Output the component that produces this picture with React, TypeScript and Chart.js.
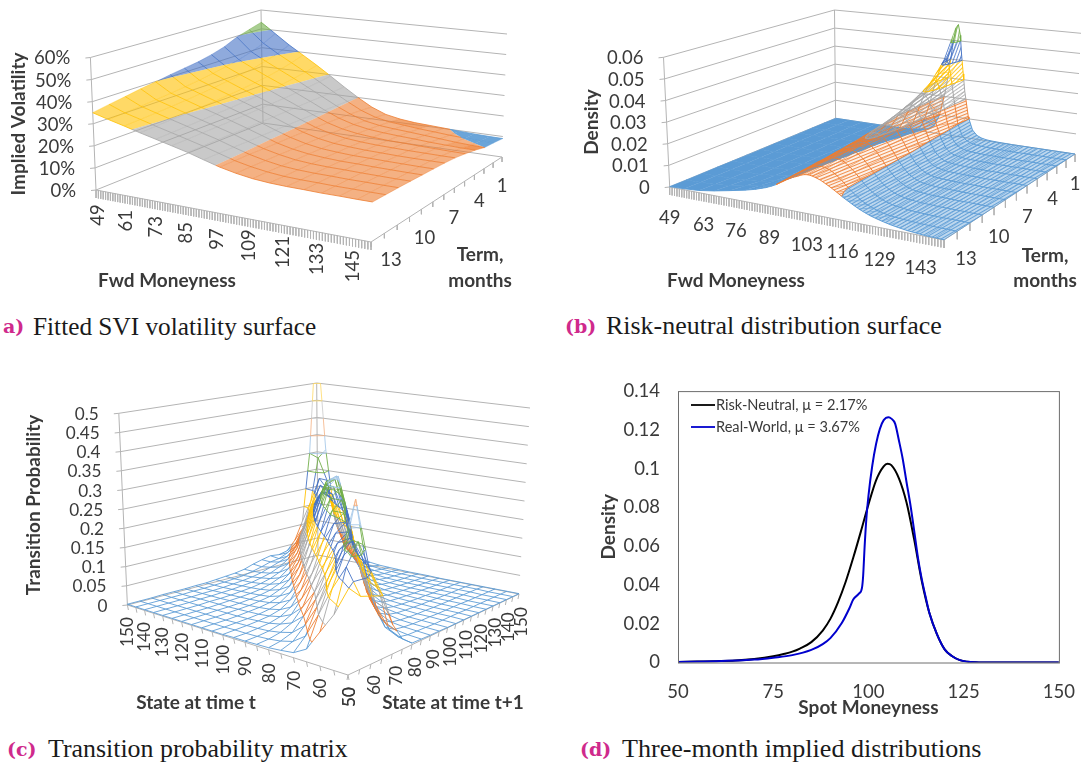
import React, { useEffect, useRef } from "react";
import { Chart, registerables } from "chart.js";
Chart.register(...registerables);

// ---------- Panel (a): implied volatility, % ----------
const volMoneyness = [49, 55, 61, 67, 73, 79, 85, 91, 97, 103, 109, 115, 121, 127, 133, 139, 145, 150];
const volTerms = [1, 2, 3, 4, 5, 6, 7, 8, 9, 10, 11, 12, 13];
const volTerm1 = [53.5, 48.2, 43, 38.5, 34, 29.3, 24.5, 20, 16, 13.2, 11.8, 11, 10.6, 10.2, 9.7, 9.3, 9.1, 9];
const volTerm2 = [51.5, 45.1, 40.6, 36.6, 32.6, 28.5, 24.3, 20.3, 16.7, 14.2, 12.8, 12.1, 11.4, 10.9, 10.3, 9.9, 9.7, 9.6];
const volTerm3 = [49.5, 42.7, 38.7, 35.1, 31.6, 27.9, 24.2, 20.5, 17.3, 14.9, 13.6, 12.9, 12.4, 11.8, 11.2, 10.6, 10.2, 10];
const volTerm4 = [46.5, 40.7, 37.1, 33.8, 30.7, 27.4, 24.1, 20.7, 17.7, 15.6, 14.3, 13.6, 13.1, 12.7, 12.2, 11.9, 11.6, 11.5];
const volTerm5 = [44.5, 39.3, 36, 33, 30.1, 27, 24, 20.9, 18, 16, 14.8, 14.1, 13.6, 13.4, 13.1, 12.9, 12.7, 12.6];
const volTerm6 = [43, 38.1, 35.1, 32.2, 29.5, 26.7, 23.9, 21, 18.3, 16.4, 15.2, 14.5, 14.1, 13.9, 13.7, 13.6, 13.5, 13.5];
const volTerm7 = [42, 37, 34.2, 31.6, 29, 26.5, 23.8, 21.1, 18.6, 16.7, 15.5, 14.9, 14.5, 14.3, 14.1, 14, 14, 14];
const volTerm8 = [41, 36.1, 33.5, 31, 28.6, 26.2, 23.8, 21.2, 18.8, 17, 15.8, 15.2, 14.8, 14.7, 14.5, 14.4, 14.3, 14.3];
const volTerm9 = [39.8, 35.3, 32.9, 30.5, 28.3, 26, 23.7, 21.3, 18.9, 17.2, 16.1, 15.5, 15.1, 15, 14.8, 14.7, 14.6, 14.6];
const volTerm10 = [38.8, 34.6, 32.3, 30, 27.9, 25.8, 23.7, 21.3, 19.1, 17.5, 16.3, 15.7, 15.4, 15.3, 15.1, 15, 14.9, 14.9];
const volTerm11 = [37.5, 34, 31.8, 29.7, 27.7, 25.7, 23.7, 21.4, 19.3, 17.7, 16.5, 15.9, 15.6, 15.5, 15.3, 15.3, 15.2, 15.2];
const volTerm12 = [36.3, 33.4, 31.4, 29.3, 27.4, 25.5, 23.6, 21.5, 19.4, 17.9, 16.8, 16.1, 15.8, 15.7, 15.5, 15.5, 15.4, 15.4];
const volTerm13 = [35, 32.9, 31, 29, 27.2, 25.4, 23.6, 21.5, 19.5, 18, 16.9, 16.3, 16, 15.9, 15.7, 15.7, 15.6, 15.6];
const volRows = [volTerm1, volTerm2, volTerm3, volTerm4, volTerm5, volTerm6, volTerm7, volTerm8, volTerm9, volTerm10, volTerm11, volTerm12, volTerm13];
const volZLabels = ["0%", "10%", "20%", "30%", "40%", "50%", "60%"];
const volMoneyTicks = [49, 61, 73, 85, 97, 109, 121, 133, 145];
const termTicks = [1, 4, 7, 10, 13];

// ---------- Panel (b): risk-neutral density, units of 0.0001 ----------
const denMoneyness = [49, 55, 61, 67, 73, 79, 83, 85, 87, 89, 91, 93, 95, 97, 98, 99, 100, 101, 102, 103, 104, 105, 107, 109, 111, 113, 115, 117, 119, 121, 123, 125, 127, 129, 132, 135, 138, 141, 144, 147, 150];
const denTerm1 = [0, 0, 0, 0, 0, 1, 3, 5, 8, 12, 20, 40, 100, 230, 330, 460, 565, 585, 530, 420, 330, 240, 110, 45, 20, 10, 5, 3, 2, 1, 1, 0, 0, 0, 0, 0, 0, 0, 0, 0, 0];
const denTerm2 = [0, 0, 0, 0, 1, 3, 6, 9, 14, 22, 45, 95, 185, 300, 345, 390, 415, 425, 400, 352, 285, 215, 100, 42, 20, 11, 6, 4, 2, 2, 1, 1, 0, 0, 0, 0, 0, 0, 0, 0, 0];
const denTerm3 = [0, 0, 0, 0, 1, 4, 9, 13, 20, 35, 62, 112, 184, 258, 290, 316, 335, 340, 330, 304, 265, 221, 128, 60, 28, 14, 8, 5, 3, 2, 1, 1, 0, 0, 0, 0, 0, 0, 0, 0, 0];
const denTerm4 = [0, 0, 0, 1, 2, 6, 13, 20, 30, 50, 83, 131, 187, 242, 262, 280, 290, 295, 288, 271, 245, 215, 144, 82, 40, 20, 11, 7, 4, 3, 2, 1, 1, 0, 0, 0, 0, 0, 0, 0, 0];
const denTerm5 = [0, 0, 0, 1, 3, 8, 17, 26, 38, 61, 95, 137, 182, 224, 240, 253, 260, 264, 260, 248, 228, 206, 149, 95, 53, 28, 14, 9, 6, 4, 3, 2, 1, 1, 0, 0, 0, 0, 0, 0, 0];
const denTerm6 = [0, 0, 0, 1, 4, 10, 21, 30, 43, 67, 99, 135, 172, 206, 219, 230, 237, 241, 238, 232, 217, 201, 158, 112, 71, 40, 22, 13, 8, 5, 4, 3, 2, 1, 1, 0, 0, 0, 0, 0, 0];
const denTerm7 = [0, 0, 1, 2, 5, 13, 25, 35, 50, 74, 103, 134, 165, 193, 204, 213, 218, 222, 221, 217, 207, 196, 161, 122, 84, 53, 32, 19, 11, 7, 5, 4, 3, 2, 1, 1, 0, 0, 0, 0, 0];
const denTerm8 = [0, 0, 1, 3, 6, 16, 30, 41, 56, 78, 105, 132, 160, 184, 193, 200, 205, 208, 207, 205, 196, 187, 159, 125, 91, 62, 39, 25, 15, 10, 7, 5, 4, 3, 2, 1, 1, 0, 0, 0, 0];
const denTerm9 = [0, 0, 1, 3, 8, 20, 35, 46, 62, 84, 107, 132, 155, 175, 183, 189, 193, 196, 196, 194, 187, 180, 158, 129, 98, 71, 48, 33, 21, 14, 10, 7, 5, 4, 3, 2, 1, 1, 0, 0, 0];
const denTerm10 = [1, 1, 2, 4, 10, 24, 39, 50, 66, 86, 108, 130, 150, 168, 175, 180, 184, 186, 186, 185, 180, 174, 155, 130, 103, 77, 55, 39, 27, 19, 13, 10, 7, 5, 4, 2, 2, 1, 1, 0, 0];
const denTerm11 = [1, 2, 3, 7, 14, 29, 44, 54, 69, 88, 108, 127, 145, 160, 166, 171, 175, 177, 177, 176, 172, 167, 151, 130, 106, 82, 62, 46, 33, 24, 17, 13, 10, 7, 5, 3, 2, 1, 1, 1, 0];
const denTerm12 = [1, 3, 6, 13, 24, 39, 51, 61, 73, 89, 105, 122, 139, 153, 158, 163, 167, 169, 170, 169, 166, 162, 148, 130, 109, 88, 69, 53, 41, 31, 23, 17, 13, 10, 7, 5, 3, 2, 1, 1, 0];
const denTerm13 = [2, 5, 10, 21, 35, 50, 62, 70, 78, 88, 100, 115, 130, 143, 148, 153, 159, 163, 165, 165, 163, 160, 152, 140, 127, 113, 98, 85, 72, 60, 50, 41, 34, 28, 20, 14, 9, 6, 3, 2, 1];
const denRows = [denTerm1, denTerm2, denTerm3, denTerm4, denTerm5, denTerm6, denTerm7, denTerm8, denTerm9, denTerm10, denTerm11, denTerm12, denTerm13];
const denZLabels = ["0", "0.01", "0.02", "0.03", "0.04", "0.05", "0.06"];
const denMoneyTicks = [49, 63, 76, 89, 103, 116, 129, 143];

// ---------- Panel (c): transition probabilities, units of 0.001 ----------
const stateGrid = [50, 55, 60, 65, 70, 75, 80, 85, 90, 95, 100, 105, 110, 115, 120, 125, 130, 135, 140, 145, 150];
const probFrom50 = [200, 170, 160, 150, 70, 25, 4, 3, 2, 2, 1, 1, 1, 1, 1, 1, 1, 1, 1, 1, 1];
const probFrom55 = [130, 230, 280, 210, 140, 40, 10, 5, 4, 3, 2, 2, 2, 2, 1, 1, 1, 1, 1, 1, 1];
const probFrom60 = [80, 170, 240, 365, 200, 90, 25, 10, 6, 4, 3, 3, 2, 2, 2, 2, 1, 1, 1, 1, 1];
const probFrom65 = [30, 100, 170, 230, 250, 180, 75, 25, 10, 6, 4, 3, 3, 2, 2, 2, 2, 2, 2, 2, 1];
const probFrom70 = [12, 40, 100, 160, 220, 240, 170, 70, 25, 12, 7, 5, 4, 3, 3, 2, 2, 2, 2, 2, 1];
const probFrom75 = [8, 18, 45, 100, 160, 220, 240, 170, 70, 25, 12, 7, 5, 4, 3, 3, 2, 2, 2, 2, 1];
const probFrom80 = [5, 10, 20, 50, 100, 165, 230, 250, 175, 75, 25, 12, 7, 5, 4, 3, 3, 2, 2, 2, 1];
const probFrom85 = [4, 6, 12, 25, 55, 110, 175, 240, 260, 185, 80, 28, 12, 7, 5, 4, 3, 3, 2, 2, 1];
const probFrom90 = [3, 4, 7, 14, 28, 60, 115, 185, 260, 280, 200, 90, 30, 13, 7, 5, 4, 3, 3, 2, 2];
const probFrom95 = [3, 3, 5, 8, 15, 30, 65, 125, 200, 280, 300, 215, 95, 32, 13, 8, 5, 4, 3, 3, 2];
const probFrom100 = [2, 3, 4, 6, 9, 16, 32, 70, 135, 215, 300, 320, 220, 100, 33, 13, 8, 5, 4, 3, 2];
const probFrom105 = [2, 2, 3, 4, 6, 10, 18, 35, 75, 145, 225, 300, 310, 210, 95, 32, 13, 8, 5, 4, 3];
const probFrom110 = [2, 2, 2, 3, 5, 7, 11, 20, 38, 80, 150, 225, 290, 290, 195, 85, 30, 13, 8, 5, 4];
const probFrom115 = [2, 2, 2, 3, 4, 5, 8, 12, 22, 40, 80, 150, 220, 270, 260, 170, 75, 28, 13, 8, 5];
const probFrom120 = [2, 2, 2, 3, 3, 4, 6, 9, 14, 24, 42, 80, 145, 210, 250, 230, 150, 65, 25, 12, 8];
const probFrom125 = [2, 2, 2, 2, 3, 4, 5, 7, 10, 16, 26, 44, 80, 140, 200, 230, 210, 135, 55, 22, 12];
const probFrom130 = [2, 2, 2, 2, 3, 3, 4, 6, 8, 12, 18, 28, 45, 80, 135, 190, 220, 200, 120, 50, 22];
const probFrom135 = [2, 2, 2, 2, 3, 3, 4, 5, 7, 9, 14, 20, 30, 45, 75, 125, 180, 230, 210, 110, 50];
const probFrom140 = [2, 2, 2, 2, 2, 3, 3, 4, 6, 8, 11, 16, 24, 32, 42, 65, 110, 170, 240, 230, 120];
const probFrom145 = [2, 2, 2, 2, 2, 3, 3, 4, 5, 7, 9, 14, 20, 27, 30, 40, 60, 100, 170, 290, 310];
const probFrom150 = [2, 2, 2, 3, 3, 3, 4, 4, 6, 8, 10, 14, 22, 28, 33, 30, 35, 60, 110, 300, 650];
const probRows = [probFrom50, probFrom55, probFrom60, probFrom65, probFrom70, probFrom75, probFrom80, probFrom85, probFrom90, probFrom95, probFrom100, probFrom105, probFrom110, probFrom115, probFrom120, probFrom125, probFrom130, probFrom135, probFrom140, probFrom145, probFrom150];
const probZLabels = ["0", "0.05", "0.1", "0.15", "0.2", "0.25", "0.3", "0.35", "0.4", "0.45", "0.5"];
const stateTicks = [50, 60, 70, 80, 90, 100, 110, 120, 130, 140, 150];

// ---------- Panel (d) ----------
const rnMoneyness = [50, 55, 60, 65, 70, 75, 78, 80, 82, 85, 88, 90, 92, 94, 96, 98, 100, 102, 104, 105, 106, 108, 110, 112, 114, 116, 118, 120, 122, 124, 126, 128, 130, 135, 140, 150];
const rnDensity = [0.0003, 0.0005, 0.0007, 0.001, 0.0018, 0.0032, 0.0045, 0.0056, 0.0072, 0.0105, 0.0165, 0.0225, 0.031, 0.0415, 0.054, 0.0675, 0.0815, 0.094, 0.1012, 0.1025, 0.1018, 0.095, 0.0825, 0.0635, 0.042, 0.0255, 0.0145, 0.0068, 0.0032, 0.0012, 0.0004, 0.0001, 0, 0, 0, 0];
const rwMoneyness = [50, 60, 70, 75, 80, 85, 88, 90, 93, 95, 96, 97.5, 98.3, 98.6, 99, 99.5, 100, 101, 102, 103, 104, 105.3, 106, 107, 108, 109, 110, 111, 112, 113, 114, 115, 116, 118, 120, 122, 124, 126, 128, 130, 135, 140, 150];
const rwDensity = [0.0003, 0.0006, 0.0015, 0.0025, 0.0038, 0.0065, 0.0095, 0.0126, 0.0204, 0.028, 0.0325, 0.0355, 0.0385, 0.0445, 0.06, 0.0755, 0.086, 0.1015, 0.1127, 0.1205, 0.125, 0.1265, 0.1258, 0.1232, 0.1145, 0.105, 0.093, 0.0815, 0.068, 0.054, 0.043, 0.034, 0.0255, 0.0145, 0.0068, 0.0032, 0.0012, 0.0004, 0.0001, 0, 0, 0, 0];
const rnLabel = "Risk-Neutral, \u03bc = 2.17%";
const rwLabel = "Real-World, \u03bc = 3.67%";

// ---------- Styles ----------
const BAND_RGB = [[91, 155, 213], [237, 125, 49], [165, 165, 165], [255, 192, 0], [68, 114, 196], [112, 173, 71], [157, 195, 230], [244, 177, 131], [201, 201, 201], [255, 217, 102]];
const rgba = (c: number[], a: number) => `rgba(${c[0]},${c[1]},${c[2]},${a})`;
const TEXT = "#3a3a3a";
const WALL = "#b4b4b4";
const TICK_FONT = "18.5px Lato, sans-serif";
const SMALL_TICK_FONT = "17.2px Lato, sans-serif";
const TITLE_FONT = "bold 19px Lato, sans-serif";

type P = [number, number];
type V = { u: number; v: number; z: number };
const GAP = { x: NaN, y: NaN };

function squareToQuad(q: P[]) {
  const [[x0, y0], [x1, y1], [x2, y2], [x3, y3]] = q;
  const dx1 = x1 - x2, dx2 = x3 - x2, sx = x0 - x1 + x2 - x3;
  const dy1 = y1 - y2, dy2 = y3 - y2, sy = y0 - y1 + y2 - y3;
  const den = dx1 * dy2 - dx2 * dy1;
  const g = (sx * dy2 - dx2 * sy) / den, h = (dx1 * sy - sx * dy1) / den;
  const a = x1 - x0 + g * x1, b = x3 - x0 + h * x3, d = y1 - y0 + g * y1, e = y3 - y0 + h * y3;
  return (u: number, v: number): P => {
    const w = g * u + h * v + 1;
    return [(a * u + b * v + x0) / w, (d * u + e * v + y0) / w];
  };
}

function projector(floor: P[], top: P[], zTop: number) {
  const F = squareToQuad(floor), T = squareToQuad(top);
  return (u: number, v: number, z: number) => {
    const a = F(u, v), b = T(u, v), w = z / zTop;
    return { x: a[0] + (b[0] - a[0]) * w, y: a[1] + (b[1] - a[1]) * w };
  };
}

function clipPoly(poly: V[], level: number, keepAbove: boolean) {
  const out: V[] = [];
  for (let i = 0; i < poly.length; i++) {
    const a = poly[i], b = poly[(i + 1) % poly.length];
    const ia = keepAbove ? a.z >= level : a.z <= level;
    const ib = keepAbove ? b.z >= level : b.z <= level;
    if (ia) out.push(a);
    if (ia !== ib) {
      const t = (level - a.z) / (b.z - a.z);
      out.push({ u: a.u + (b.u - a.u) * t, v: a.v + (b.v - a.v) * t, z: level });
    }
  }
  return out;
}

// a fine stripe texture standing in for the very dense wire lines of the original
function stripes(c: number[], alpha: number, gap: number, angle: number) {
  const t = document.createElement("canvas");
  t.width = 8;
  t.height = gap;
  const g = t.getContext("2d")!;
  g.fillStyle = rgba(c, alpha);
  g.fillRect(0, 0, 8, 1);
  const pat = g.createPattern(t, "repeat")!;
  pat.setTransform(new DOMMatrix().rotateSelf(angle));
  return pat;
}

function surfaceDatasets(s: any) {
  const { us, vs, rows, step, zTop, nBands, floor, top, wall } = s;
  const pr = projector(floor, top, zTop);
  const out: any[] = [];
  const line = (pts: any[], color: string, w: number) => out.push({ data: pts, showLine: true, pointRadius: 0, borderColor: color, borderWidth: w, fill: false, spanGaps: false, clip: false });

  // walls
  const wallPts: any[] = [];
  for (let k = 0; k <= nBands; k++) {
    const z = k * step;
    const p0 = pr(wall[0][0], wall[0][1], z);
    wallPts.push({ x: p0.x - 5, y: p0.y + 0.5 });
    for (const c of wall) wallPts.push(pr(c[0], c[1], z));
    wallPts.push(GAP);
  }
  for (const c of [wall[0], wall[1]]) {
    wallPts.push(pr(c[0], c[1], 0), pr(c[0], c[1], zTop), GAP);
  }
  line(wallPts, WALL, 1);

  // axes + ticks
  const axisPts: any[] = [];
  for (const ax of s.axes) {
    axisPts.push(pr(ax.from[0], ax.from[1], 0), pr(ax.to[0], ax.to[1], 0), GAP);
    for (let i = 0; i < ax.count; i++) {
      const t = i / (ax.count - 1);
      const p = pr(ax.from[0] + (ax.to[0] - ax.from[0]) * t, ax.from[1] + (ax.to[1] - ax.from[1]) * t, 0);
      axisPts.push(p, { x: p.x + ax.dx, y: p.y + ax.dy }, GAP);
    }
  }
  line(axisPts, WALL, 1);

  // fills, one dataset per band + strength
  const fills: Record<string, any[]> = {};
  for (let j = 0; j < vs.length - 1; j++) {
    for (let i = 0; i < us.length - 1; i++) {
      const q: V[] = [
        { u: us[i], v: vs[j], z: rows[j][i] },
        { u: us[i + 1], v: vs[j], z: rows[j][i + 1] },
        { u: us[i + 1], v: vs[j + 1], z: rows[j + 1][i + 1] },
        { u: us[i], v: vs[j + 1], z: rows[j + 1][i] },
      ];
      const sp = q.map((c) => pr(c.u, c.v, c.z));
      let area = 0;
      for (let k = 0; k < 4; k++) {
        const a = sp[k], b = sp[(k + 1) % 4];
        area += a.x * b.y - b.x * a.y;
      }
      area = Math.max(Math.abs(area) / 2, 1);
      const density = ((us[i + 1] - us[i]) * (vs[j + 1] - vs[j])) / area;
      for (let b = 0; b < nBands; b++) {
        let poly = clipPoly(q, b * step, true);
        if (poly.length) poly = clipPoly(poly, (b + 1) * step, false);
        if (poly.length < 3) continue;
        const alpha = s.fillAlpha ? s.fillAlpha(b, (us[i] + us[i + 1]) / 2, density) : 0;
        if (alpha <= 0) continue;
        const key = b + "|" + (Math.round(alpha * 10) / 10);
        const arr = fills[key] || (fills[key] = []);
        for (const c of poly) arr.push(pr(c.u, c.v, c.z));
        arr.push(GAP);
      }
    }
  }
  const fillSet = (data: any[], bg: any) => out.push({ data, showLine: true, pointRadius: 0, borderWidth: 0, borderColor: "rgba(0,0,0,0)", backgroundColor: bg, fill: "shape", spanGaps: false, clip: false });
  for (const key of Object.keys(fills)) {
    const [b, a] = key.split("|").map(Number);
    fillSet(fills[key], rgba(BAND_RGB[b], a));
    if (s.hatch && s.hatch(b, a)) fillSet(fills[key], s.hatch(b, a));
  }

  // wire
  const bandOf = (z: number) => Math.min(Math.floor(z / step), nBands);
  const rowLines: any[][] = BAND_RGB.map(() => []);
  const colLines: any[][] = BAND_RGB.map(() => []);
  const addEdge = (a: V, b: V, sink: any[][]) => {
    const lo = Math.min(a.z, b.z), hi = Math.max(a.z, b.z);
    const ts = [0];
    const cuts: number[] = [];
    for (let k = Math.floor(lo / step) + 1; k * step < hi; k++) cuts.push((k * step - a.z) / (b.z - a.z));
    cuts.sort((x, y) => x - y);
    ts.push(...cuts, 1);
    for (let n = 0; n < ts.length - 1; n++) {
      const mid = a.z + (b.z - a.z) * ((ts[n] + ts[n + 1]) / 2);
      const bd = bandOf(mid);
      if (mid >= zTop || bd >= nBands) continue;
      const at = (t: number) => pr(a.u + (b.u - a.u) * t, a.v + (b.v - a.v) * t, a.z + (b.z - a.z) * t);
      sink[bd].push(at(ts[n]), at(ts[n + 1]), GAP);
    }
  };
  for (let j = 0; j < vs.length; j++)
    for (let i = 0; i < us.length - 1; i++)
      addEdge({ u: us[i], v: vs[j], z: rows[j][i] }, { u: us[i + 1], v: vs[j], z: rows[j][i + 1] }, rowLines);
  for (let i = 0; i < us.length; i++)
    for (let j = 0; j < vs.length - 1; j++)
      addEdge({ u: us[i], v: vs[j], z: rows[j][i] }, { u: us[i], v: vs[j + 1], z: rows[j + 1][i] }, colLines);
  // contour rings at band boundaries
  const rings: any[][] = BAND_RGB.map(() => []);
  if (s.rings) {
    for (let k = 1; k <= nBands; k++) {
      const L = k * step;
      for (let j = 0; j < vs.length - 1; j++) {
        for (let i = 0; i < us.length - 1; i++) {
          const q: V[] = [
            { u: us[i], v: vs[j], z: rows[j][i] },
            { u: us[i + 1], v: vs[j], z: rows[j][i + 1] },
            { u: us[i + 1], v: vs[j + 1], z: rows[j + 1][i + 1] },
            { u: us[i], v: vs[j + 1], z: rows[j + 1][i] },
          ];
          const xs: any[] = [];
          for (let e = 0; e < 4; e++) {
            const a = q[e], b = q[(e + 1) % 4];
            if ((a.z < L) !== (b.z < L)) {
              const t = (L - a.z) / (b.z - a.z);
              xs.push(pr(a.u + (b.u - a.u) * t, a.v + (b.v - a.v) * t, L));
            }
          }
          for (let n = 0; n + 1 < xs.length; n += 2) rings[Math.min(k, nBands - 1)].push(xs[n], xs[n + 1], GAP);
        }
      }
    }
  }
  BAND_RGB.forEach((c, b) => {
    if (b >= nBands) return;
    if (colLines[b].length) line(colLines[b], rgba(c, s.colAlpha(b)), s.colWidth);
    if (rowLines[b].length) line(rowLines[b], rgba(c, s.rowAlpha(b)), s.rowWidth);
    if (rings[b].length) line(rings[b], rgba(c, s.rowAlpha(b)), s.rowWidth);
  });
  return { datasets: out.reverse(), pr };
}

function labelPlugin(labels: any[]) {
  return {
    id: "texts",
    afterDraw(chart: any) {
      const ctx = chart.ctx;
      const xs = chart.scales.x, ys = chart.scales.y;
      for (const l of labels) {
        ctx.save();
        ctx.translate(xs.getPixelForValue(l.x), ys.getPixelForValue(l.y));
        if (l.rot) ctx.rotate(l.rot);
        ctx.font = l.font;
        ctx.fillStyle = l.color || TEXT;
        ctx.textAlign = l.align || "center";
        ctx.textBaseline = "middle";
        ctx.fillText(l.t, 0, 0);
        ctx.restore();
      }
    },
  };
}

const lerp = (a: number, b: number, t: number) => a + (b - a) * t;

function axisLabels(list: any[], pos: (v: any) => { x: number; y: number }, o0: P, o1: P, rot: number, font = TICK_FONT) {
  return list.map((val, i) => {
    const t = list.length > 1 ? i / (list.length - 1) : 0;
    const p = pos(val);
    return { t: String(val), x: p.x + lerp(o0[0], o1[0], t), y: p.y + lerp(o0[1], o1[1], t), rot, font };
  });
}

function zLabels(list: string[], pr: any, c: P, step: number, right: number, drop: number, font = TICK_FONT) {
  return list.map((t, k) => {
    const p = pr(c[0], c[1], k * step);
    return { t, x: p.x - right, y: p.y + drop, font, align: "right" };
  });
}

const norm = (arr: number[], lo: number, hi: number) => arr.map((x) => (x - lo) / (hi - lo));

function buildA() {
  const spec = {
    us: norm(volMoneyness, 49, 150), vs: norm(volTerms, 1, 13), rows: volRows,
    step: 10, zTop: 60, nBands: 6,
    floor: [[263, 123], [502, 157], [371, 242], [96, 190]] as P[],
    top: [[261, 10], [507, 34], [377, 88], [90.4, 57.5]] as P[],
    wall: [[0, 1], [0, 0], [1, 0]],
    axes: [
      { from: [0, 1], to: [1, 1], count: 102, dx: 0, dy: 8 },
      { from: [1, 1], to: [1, 0], count: 13, dx: 0, dy: 5 },
    ],
    fillAlpha: (b: number, _u: number, d: number) => (b === 0 ? 0.9 : Math.min(1, 0.58 + 0.42 * Math.max(0, (d - 5.5e-5) / 4e-5))),
    rowAlpha: () => 0.8, colAlpha: () => 0.55, rowWidth: 1, colWidth: 0.7, rings: false,
  };
  const { datasets, pr } = surfaceDatasets(spec);
  const labels = [
    ...zLabels(volZLabels, pr, [0, 1], 10, 20, 1),
    ...axisLabels(volMoneyTicks, (m) => pr((m - 49) / 101, 1, 0), [2, 25], [-3, 27], -Math.PI / 2),
    ...axisLabels(termTicks, (t) => pr(1, (t - 1) / 12, 0), [0, 29], [20, 18], 0),
    { t: "Implied Volatility", x: 18.5, y: 124, rot: -Math.PI / 2, font: TITLE_FONT },
    { t: "Fwd Moneyness", x: 167, y: 281, font: TITLE_FONT },
    { t: "Term,", x: 480, y: 255, font: TITLE_FONT },
    { t: "months", x: 480, y: 281, font: TITLE_FONT },
  ];
  return { datasets, labels };
}

function buildB() {
  const hatches = [
    stripes(BAND_RGB[0], 0.9, 3, -30),
    stripes(BAND_RGB[1], 0.85, 3, -22),
    stripes(BAND_RGB[2], 0.8, 3, -35),
    stripes(BAND_RGB[3], 0.8, 3, -45),
    stripes(BAND_RGB[4], 0.8, 3, -70),
    stripes(BAND_RGB[5], 0.8, 3, -80),
  ];
  const spec = {
    us: norm(denMoneyness, 49, 150), vs: norm(volTerms, 1, 13), rows: denRows,
    step: 100, zTop: 600, nBands: 6,
    floor: [[835.6, 118.3], [1075, 154], [944, 240], [669.7, 187]] as P[],
    top: [[834.5, 10], [1081, 33.3], [950, 88], [663.5, 57.3]] as P[],
    wall: [[0, 1], [0, 0], [1, 0]],
    axes: [
      { from: [0, 1], to: [1, 1], count: 102, dx: 0, dy: 8 },
      { from: [1, 1], to: [1, 0], count: 13, dx: 0, dy: 8 },
    ],
    fillAlpha: (b: number, u: number) => {
      if (b === 0 && u < 0.39) return 1;
      if (b === 0) return 0.4;
      if (b === 1) return 0.1;
      return 0.01;
    },
    hatch: (b: number, a: number) => (b === 0 && a === 1 ? null : hatches[b]),
    rowAlpha: () => 0.95, colAlpha: () => 0.75, rowWidth: 1, colWidth: 0.8, rings: true,
  };
  const { datasets, pr } = surfaceDatasets(spec);
  const labels = [
    ...zLabels(denZLabels, pr, [0, 1], 100, 20, 1),
    ...axisLabels(denMoneyTicks, (m) => pr((m - 49) / 101, 1, 0), [0, 31], [-2, 32], 0),
    ...axisLabels(termTicks, (t) => pr(1, (t - 1) / 12, 0), [0, 30], [22, 19], 0),
    { t: "Density", x: 592, y: 122, rot: -Math.PI / 2, font: TITLE_FONT },
    { t: "Fwd Moneyness", x: 736, y: 281, font: TITLE_FONT },
    { t: "Term,", x: 1045, y: 256, font: TITLE_FONT },
    { t: "months", x: 1045, y: 281, font: TITLE_FONT },
  ];
  return { datasets, labels };
}

function buildC() {
  const grid = norm(stateGrid, 50, 150);
  const spec = {
    us: grid, vs: grid, rows: probRows,
    step: 50, zTop: 500, nBands: 10,
    floor: [[348, 675], [519, 594], [318, 555], [127.4, 605]] as P[],
    top: [[350, 458], [530, 408], [316.7, 383], [118.8, 413.3]] as P[],
    wall: [[0, 1], [1, 1], [1, 0]],
    axes: [
      { from: [0, 1], to: [0, 0], count: 21, dx: 1, dy: 5 },
      { from: [0, 0], to: [1, 0], count: 21, dx: -1, dy: 5 },
    ],
    rowAlpha: (b: number) => (b >= 6 ? 0.8 : 0.88), colAlpha: (b: number) => (b >= 6 ? 0.8 : 0.88), rowWidth: 1, colWidth: 1, rings: true,
  };
  const { datasets, pr } = surfaceDatasets(spec);
  const leftTicks = [...stateTicks].reverse();
  const corner = pr(0, 0, 0);
  const labels = [
    ...zLabels(probZLabels, pr, [0, 1], 50, 20, 1, SMALL_TICK_FONT),
    ...axisLabels(leftTicks, (s) => pr(0, (s - 50) / 100, 0), [0, 27], [1, 22], -Math.PI / 2, SMALL_TICK_FONT),
    { t: String(stateTicks[0]), x: corner.x + 1.8, y: corner.y + 22, rot: -Math.PI / 2, font: SMALL_TICK_FONT },
    ...axisLabels(stateTicks.slice(1), (s) => pr((s - 50) / 100, 0, 0), [4, 21], [2, 28], -Math.PI / 2, SMALL_TICK_FONT),
    { t: "Transition Probability", x: 34, y: 505, rot: -Math.PI / 2, font: TITLE_FONT },
    { t: "State at time t", x: 196, y: 703, font: TITLE_FONT },
    { t: "State at time t+1", x: 453, y: 703, font: TITLE_FONT },
  ];
  return { datasets, labels };
}

function Surface({ build, box }: { build: () => any; box: number[] }) {
  const ref = useRef<HTMLCanvasElement>(null);
  useEffect(() => {
    const { datasets, labels } = build();
    const chart = new Chart(ref.current!, {
      type: "scatter",
      data: { datasets },
      options: {
        animation: false, responsive: false, events: [],
        layout: { padding: 0 },
        plugins: { legend: { display: false }, tooltip: { enabled: false } },
        scales: {
          x: { type: "linear", display: false, min: box[0], max: box[0] + box[2] },
          y: { type: "linear", display: false, min: box[1], max: box[1] + box[3], reverse: true },
        },
      },
      plugins: [labelPlugin(labels)],
    } as any);
    return () => chart.destroy();
  }, []);
  return <canvas ref={ref} width={box[2]} height={box[3]} style={{ position: "absolute", left: box[0], top: box[1], width: box[2], height: box[3] }} />;
}

function Lines() {
  const ref = useRef<HTMLCanvasElement>(null);
  useEffect(() => {
    const frameAndLegend = {
      id: "frameAndLegend",
      afterDraw(chart: any) {
        const { ctx, chartArea: a } = chart;
        ctx.save();
        ctx.strokeStyle = "#6e6e6e";
        ctx.lineWidth = 1;
        ctx.strokeRect(a.left + 0.5, a.top + 0.5, a.right - a.left, a.bottom - a.top);
        const rows = [{ t: rnLabel, c: "#000000", y: 35 }, { t: rwLabel, c: "#0000cd", y: 57 }];
        ctx.font = "14.6px Lato, sans-serif";
        ctx.textBaseline = "middle";
        for (const r of rows) {
          ctx.strokeStyle = r.c;
          ctx.lineWidth = 1.8;
          ctx.beginPath();
          ctx.moveTo(121, r.y);
          ctx.lineTo(145, r.y);
          ctx.stroke();
          ctx.fillStyle = TEXT;
          ctx.fillText(r.t, 146, r.y);
        }
        ctx.restore();
      },
    };
    const pts = (xs: number[], ys: number[]) => xs.map((x, i) => ({ x, y: ys[i] }));
    const chart = new Chart(ref.current!, {
      type: "line",
      data: {
        datasets: [
          { label: rwLabel, data: pts(rwMoneyness, rwDensity), borderColor: "#0000cd", borderWidth: 2, pointRadius: 0, cubicInterpolationMode: "monotone" },
          { label: rnLabel, data: pts(rnMoneyness, rnDensity), borderColor: "#000000", borderWidth: 2, pointRadius: 0, cubicInterpolationMode: "monotone" },
        ],
      },
      options: {
        animation: false, responsive: false, events: [],
        layout: { padding: { left: 27, right: 15, top: 18, bottom: 1 } },
        plugins: { legend: { display: false }, tooltip: { enabled: false } },
        scales: {
          x: {
            type: "linear", min: 50, max: 150,
            grid: { display: false }, border: { display: false },
            ticks: { stepSize: 25, color: TEXT, font: { family: "Lato, sans-serif", size: 18.5 }, padding: 10, maxRotation: 0 },
            title: { display: true, text: "Spot Moneyness", color: TEXT, font: { family: "Lato, sans-serif", size: 19, weight: "bold" }, padding: 0 },
            afterFit: (s: any) => { s.height = 56.5; },
          },
          y: {
            min: 0, max: 0.14,
            grid: { display: false }, border: { display: false },
            ticks: { stepSize: 0.02, color: TEXT, font: { family: "Lato, sans-serif", size: 18.5 }, padding: 10, callback: (v: any) => String(Number(Number(v).toFixed(2))) },
            title: { display: true, text: "Density", color: TEXT, font: { family: "Lato, sans-serif", size: 19, weight: "bold" }, padding: 0 },
            afterFit: (s: any) => { s.width = 81; },
          },
        },
      },
      plugins: [frameAndLegend],
    } as any);
    return () => chart.destroy();
  }, []);
  return <canvas ref={ref} width={515} height={350} style={{ position: "absolute", left: 570, top: 370, width: 515, height: 350 }} />;
}

function Caption({ x, y, tag, tx, text, size }: { x: number; y: number; tag: string; tx: number; text: string; size: number }) {
  const base: any = { position: "absolute", top: y, whiteSpace: "nowrap", fontFamily: "'Liberation Serif', serif", fontSize: size, lineHeight: "28px" };
  return (
    <>
      <span style={{ ...base, left: x, color: "#cf2a8c", fontWeight: "bold", fontFamily: "'DejaVu Serif', serif", fontSize: 19 }}>{tag}</span>
      <span style={{ ...base, left: tx, color: "#1a1a1a" }}>{text}</span>
    </>
  );
}

export default function App() {
  return (
    <div style={{ position: "absolute", left: 0, top: 0, width: 1085, height: 764, overflow: "hidden", background: "#fff" }}>
      <Surface build={buildA} box={[0, 0, 540, 300]} />
      <Surface build={buildB} box={[550, 0, 535, 300]} />
      <Surface build={buildC} box={[0, 370, 540, 350]} />
      <Lines />
      <Caption x={3} y={312} tag="a)" tx={33} text="Fitted SVI volatility surface" size={25.3} />
      <Caption x={565} y={312} tag="(b)" tx={606} text="Risk-neutral distribution surface" size={25.95} />
      <Caption x={7} y={735} tag="(c)" tx={48} text="Transition probability matrix" size={25.9} />
      <Caption x={580} y={735} tag="(d)" tx={622} text="Three-month implied distributions" size={26.1} />
    </div>
  );
}
